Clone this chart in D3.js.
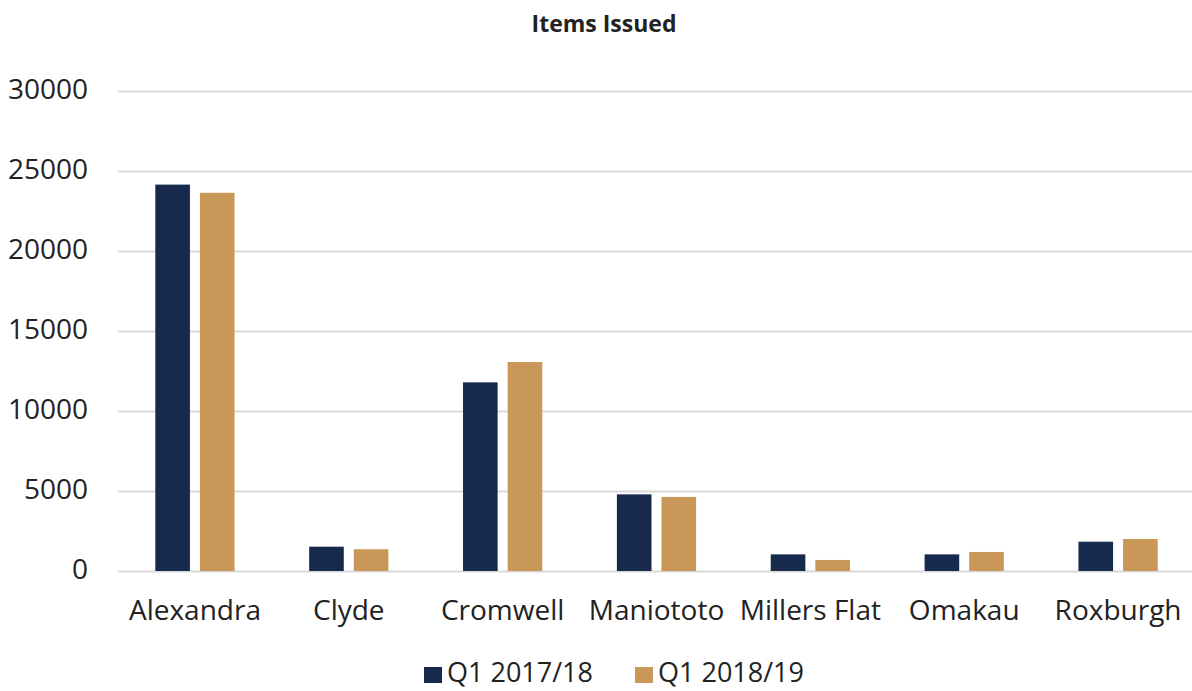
<!DOCTYPE html>
<html>
<head>
<meta charset="utf-8">
<script src="https://cdn.jsdelivr.net/npm/d3@7"></script>
<style>
  html, body { margin: 0; padding: 0; background: #fff; }
  svg { display: block; font-family: "Open Sans", "Noto Sans", sans-serif; }
</style>
</head>
<body>
<svg id="chart" width="1192" height="691"></svg>
<script>
// Library branches and items issued per quarter
const branches = ["Alexandra", "Clyde", "Cromwell", "Maniototo", "Millers Flat", "Omakau", "Roxburgh"];
const seriesNames = ["Q1 2017/18", "Q1 2018/19"];
const q1_2017_18 = [24150, 1520, 11790, 4790, 1040, 1040, 1830];
const q1_2018_19 = [23640, 1360, 13060, 4630, 690, 1190, 2000];
const yTicks = [0, 5000, 10000, 15000, 20000, 25000, 30000];
const colors = ["#172a4e", "#c99757"];

const svg = d3.select("#chart");
const plot = { left: 118, right: 1195, top: 91, bottom: 571 };

const x = d3.scaleBand().domain(branches).range([plot.left, plot.right]);
const y = d3.scaleLinear().domain([0, 30000]).range([plot.bottom, plot.top]);

const bw = x.bandwidth();
const barW = bw * 0.225;
const gap = bw * 0.065;
const xs = d3.scaleOrdinal().domain(seriesNames)
  .range([bw / 2 - gap / 2 - barW, bw / 2 + gap / 2]);

// Title
svg.append("text")
  .attr("x", 604).attr("y", 32)
  .attr("text-anchor", "middle")
  .attr("font-size", 23).attr("font-weight", 700)
  .attr("fill", "#222")
  .text("Items Issued");

// Gridlines and y labels
const yAxis = d3.axisLeft(y).tickValues(yTicks).tickSize(-(plot.right - plot.left)).tickPadding(30)
  .tickFormat(d3.format("d"));
const gy = svg.append("g").attr("transform", `translate(${plot.left},0)`).call(yAxis);
gy.select(".domain").remove();
gy.selectAll(".tick line").attr("stroke", "#d9d9d9").attr("stroke-width", 2);
gy.selectAll(".tick text").attr("font-size", 28).attr("fill", "#222")
  .attr("dy", "0.25em")
  .attr("font-family", "'Open Sans', sans-serif");

// Bars
const data = [q1_2017_18, q1_2018_19];
data.forEach((vals, si) => {
  svg.append("g").selectAll("rect")
    .data(vals)
    .join("rect")
    .attr("x", (d, i) => x(branches[i]) + xs(seriesNames[si]))
    .attr("y", d => y(d))
    .attr("width", barW)
    .attr("height", d => y(0) - y(d))
    .attr("fill", colors[si]);
});

// Category labels
const xAxis = d3.axisBottom(x).tickSize(0).tickPadding(29);
const gx = svg.append("g").attr("transform", `translate(0,${plot.bottom})`).call(xAxis);
gx.select(".domain").remove();
gx.selectAll(".tick text").attr("font-size", 28).attr("fill", "#222")
  .attr("font-family", "'Open Sans', sans-serif");

// Legend
const legendX = [424, 635];
const lg = svg.append("g");
seriesNames.forEach((name, i) => {
  lg.append("rect")
    .attr("x", legendX[i]).attr("y", 667)
    .attr("width", 18).attr("height", 16)
    .attr("fill", colors[i]);
  lg.append("text")
    .attr("x", legendX[i] + 23).attr("y", 682)
    .attr("font-size", 27).attr("fill", "#222")
    .text(name);
});
</script>
</body>
</html>
